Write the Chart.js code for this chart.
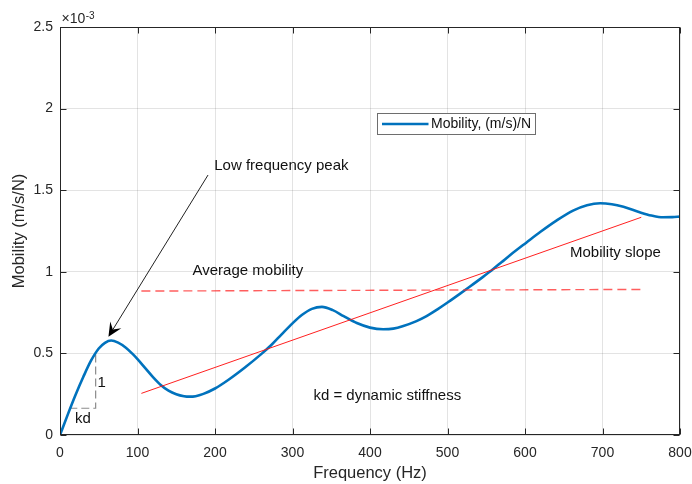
<!DOCTYPE html>
<html>
<head>
<meta charset="utf-8">
<script src="https://cdn.jsdelivr.net/npm/chart.js@4.4.1/dist/chart.umd.min.js"></script>
<style>
html,body{margin:0;padding:0;background:#fff;overflow:hidden}
#wrap{width:692px;height:484px;position:relative}
</style>
</head>
<body>
<div id="wrap"><canvas id="c" width="692" height="484"></canvas></div>
<script>
// ---- data (mobility in units of 1e-3 (m/s)/N) ----
const frequencyHz = [0, 10, 20, 30, 40, 50, 58, 66, 75, 85, 93, 100, 110, 120, 130, 140, 150, 160, 167, 175, 185, 200, 217, 239, 260, 273, 286, 300, 312, 325, 338, 352, 366, 383, 400, 417, 430, 443, 460, 473, 487, 501, 515, 529, 545, 559, 570, 581, 602, 620, 641, 662, 680, 697, 712, 727, 748, 763, 778, 790, 800];
const mobility    = [0, 0.125, 0.245, 0.355, 0.455, 0.53, 0.565, 0.579, 0.566, 0.535, 0.5, 0.465, 0.41, 0.355, 0.307, 0.272, 0.25, 0.238, 0.235, 0.238, 0.252, 0.285, 0.337, 0.415, 0.497, 0.553, 0.617, 0.684, 0.735, 0.773, 0.785, 0.765, 0.728, 0.686, 0.658, 0.648, 0.652, 0.668, 0.698, 0.728, 0.77, 0.815, 0.862, 0.91, 0.966, 1.017, 1.06, 1.103, 1.18, 1.245, 1.315, 1.375, 1.408, 1.42, 1.414, 1.398, 1.365, 1.345, 1.334, 1.335, 1.338];
const seriesLabel = 'Mobility, (m/s)/N';

const slopeFreq = [105, 750];
const slopeMobility = [0.255, 1.334];
const averageFreq = [105, 753];
const averageMobility = [0.882, 0.892];
const kdFreq = [12, 46, 46];
const kdMobility = [0.164, 0.164, 0.5];
const arrowFreq = [191, 62.5];
const arrowMobility = [1.593, 0.602];

const xTicks = [0, 100, 200, 300, 400, 500, 600, 700, 800];
const yTicks = [0, 0.5, 1, 1.5, 2, 2.5];
const yExponent = '-3';

const noteTexts    = ['Low frequency peak', 'Average mobility', 'Mobility slope', 'kd = dynamic stiffness', '1', 'kd'];
const noteFreq     = [199, 171, 658, 327, 53.7, 29.7];
const noteMobility = [1.648, 1.007, 1.117, 0.239, 0.317, 0.096];
const noteAlign    = ['left', 'left', 'left', 'left', 'center', 'center'];

const FONT = "'Liberation Sans', Arial, Helvetica, sans-serif";
const AX = '#262626';

function pts(xs, ys){ return xs.map((v,i)=>({x:v, y:ys[i]})); }

const overlay = {
  id: 'overlay',
  afterDraw(chart){
    const {ctx, chartArea:a, scales:{x, y}} = chart;
    ctx.save();
    const L = Math.round(a.left)+0.5, R = Math.round(a.right)-0.5, T = Math.round(a.top)+0.5, B = Math.round(a.bottom)-0.5;
    // box
    ctx.strokeStyle = AX; ctx.lineWidth = 1; ctx.setLineDash([]);
    ctx.strokeRect(L, T, R-L, B-T);
    // inner ticks
    const tl = 6;
    ctx.beginPath();
    xTicks.forEach(v=>{
      const px = Math.round(x.getPixelForValue(v))+0.5;
      ctx.moveTo(px, B); ctx.lineTo(px, B-tl);
      ctx.moveTo(px, T); ctx.lineTo(px, T+tl);
    });
    yTicks.forEach(v=>{
      const py = Math.round(y.getPixelForValue(v))+0.5;
      ctx.moveTo(L, py); ctx.lineTo(L+tl, py);
      ctx.moveTo(R, py); ctx.lineTo(R-tl, py);
    });
    ctx.stroke();
    // exponent label
    ctx.fillStyle = AX; ctx.textBaseline = 'middle'; ctx.textAlign = 'left';
    ctx.font = '14px ' + FONT;
    ctx.fillText('\u00D710', a.left + 1.5, a.top - 7.5);
    const w = ctx.measureText('\u00D710').width;
    ctx.font = '10px ' + FONT;
    ctx.fillText(yExponent, a.left + 2 + w, a.top - 11);

    // arrow
    const x0 = x.getPixelForValue(arrowFreq[0]), y0 = y.getPixelForValue(arrowMobility[0]);
    const x1 = x.getPixelForValue(arrowFreq[1]), y1 = y.getPixelForValue(arrowMobility[1]);
    const ang = Math.atan2(y1-y0, x1-x0);
    const hl = 14, hw = 6.5;
    ctx.strokeStyle = '#222'; ctx.lineWidth = 1;
    ctx.beginPath(); ctx.moveTo(x0, y0);
    ctx.lineTo(x1 - Math.cos(ang)*hl*0.6, y1 - Math.sin(ang)*hl*0.6); ctx.stroke();
    ctx.fillStyle = '#000';
    ctx.beginPath();
    ctx.moveTo(x1, y1);
    ctx.lineTo(x1 - Math.cos(ang)*hl + Math.sin(ang)*hw, y1 - Math.sin(ang)*hl - Math.cos(ang)*hw);
    ctx.lineTo(x1 - Math.cos(ang)*hl*0.6, y1 - Math.sin(ang)*hl*0.6);
    ctx.lineTo(x1 - Math.cos(ang)*hl - Math.sin(ang)*hw, y1 - Math.sin(ang)*hl + Math.cos(ang)*hw);
    ctx.closePath(); ctx.fill();

    // notes
    ctx.font = '15px ' + FONT; ctx.fillStyle = '#111'; ctx.textBaseline = 'middle';
    noteTexts.forEach((t,i)=>{
      ctx.textAlign = noteAlign[i];
      ctx.fillText(t, x.getPixelForValue(noteFreq[i]), y.getPixelForValue(noteMobility[i]));
    });

    // legend
    const lx = Math.round(a.left + 317) + 0.5, ly = Math.round(a.top + 86) + 0.5, lw = 158, lh = 21;
    ctx.fillStyle = '#fff'; ctx.fillRect(lx, ly, lw, lh);
    ctx.strokeStyle = '#6e6e6e'; ctx.lineWidth = 1; ctx.strokeRect(lx, ly, lw, lh);
    const ds = chart.data.datasets[0];
    ctx.strokeStyle = ds.borderColor; ctx.lineWidth = ds.borderWidth;
    ctx.beginPath(); ctx.moveTo(lx + 4.5, ly + lh/2); ctx.lineTo(lx + 51, ly + lh/2); ctx.stroke();
    ctx.fillStyle = '#111'; ctx.font = '14px ' + FONT; ctx.textAlign = 'left';
    ctx.fillText(ds.label, lx + 53.5, ly + lh/2);
    ctx.restore();
  }
};

new Chart(document.getElementById('c'), {
  type: 'line',
  data: {
    datasets: [
      { label: seriesLabel, data: pts(frequencyHz, mobility), borderColor: '#0072BD', borderWidth: 2.6,
        pointRadius: 0, cubicInterpolationMode: 'monotone', fill: false, order: 2 },
      { label: 'slope', data: pts(slopeFreq, slopeMobility), borderColor: 'rgba(255,20,20,0.95)', borderWidth: 1,
        pointRadius: 0, fill: false, order: 1 },
      { label: 'average', data: pts(averageFreq, averageMobility), borderColor: 'rgba(255,40,40,0.75)', borderWidth: 1.4,
        borderDash: [9, 5], pointRadius: 0, fill: false, order: 1 },
      { label: 'kd', data: pts(kdFreq, kdMobility), borderColor: '#8c8c8c', borderWidth: 1.2,
        borderDash: [8, 4], pointRadius: 0, fill: false, order: 3 }
    ]
  },
  options: {
    responsive: false,
    devicePixelRatio: 1,
    animation: false,
    layout: { padding: { top: 27, right: 12, left: 0, bottom: 0 } },
    plugins: { legend: { display: false }, tooltip: { enabled: false } },
    scales: {
      x: {
        type: 'linear', min: 0, max: 800,
        afterBuildTicks: s => { s.ticks = xTicks.map(v=>({value:v})); },
        afterFit: s => { s.height = 49; s.paddingLeft = 0; s.paddingRight = 0; },
        ticks: { color: AX, font: { family: FONT, size: 14 }, padding: 10, maxRotation: 0, autoSkip: false },
        grid: { color: 'rgba(38,38,38,0.13)', drawTicks: false, lineWidth: 1 },
        border: { display: false },
        title: { display: true, text: 'Frequency (Hz)', color: AX, font: { family: FONT, size: 16.5 }, padding: { top: 0, bottom: 1 } }
      },
      y: {
        type: 'linear', min: 0, max: 2.5,
        afterBuildTicks: s => { s.ticks = yTicks.map(v=>({value:v})); },
        afterFit: s => { s.width = 60; s.paddingTop = 0; s.paddingBottom = 0; },
        ticks: { color: AX, font: { family: FONT, size: 14 }, padding: 7, callback: v => String(v) },
        grid: { color: 'rgba(38,38,38,0.13)', drawTicks: false, lineWidth: 1 },
        border: { display: false },
        title: { display: true, text: 'Mobility (m/s/N)', color: AX, font: { family: FONT, size: 16.5 }, padding: { top: 10, bottom: 0 } }
      }
    }
  },
  plugins: [overlay]
});
</script>
</body>
</html>
